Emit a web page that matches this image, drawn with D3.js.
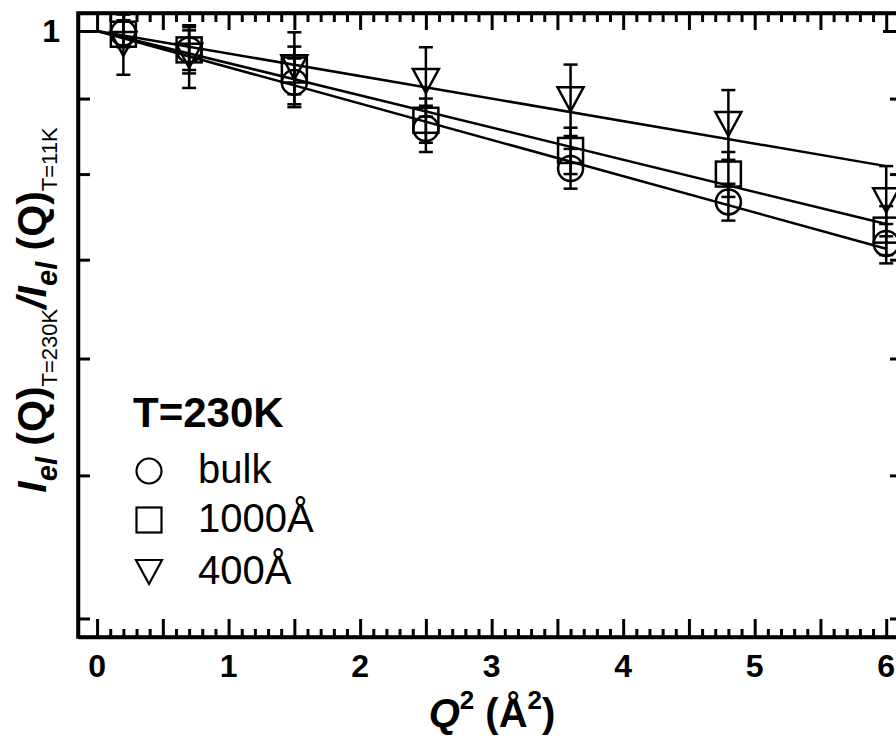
<!DOCTYPE html>
<html><head><meta charset="utf-8">
<script src="https://cdn.jsdelivr.net/npm/d3@7"></script>
<style>body{margin:0;background:#fff}svg{display:block}text{font-family:Arial,"Liberation Sans",sans-serif;fill:#000}</style>
</head><body><svg id="c" width="896" height="745"></svg>
<script>
// ---- data ----
const q2 = [0.2, 0.7, 1.5, 2.5, 3.6, 4.8, 6.0];
const bulk = [0.997, 0.971, 0.923, 0.859, 0.807, 0.766, 0.718];
const bulkErr = [0.02, 0.03, 0.035, 0.031, 0.025, 0.022, 0.022];
const nm1000 = [0.995, 0.971, 0.941, 0.870, 0.830, 0.800, 0.733];
const nm1000Err = [0.02, 0.035, 0.035, 0.03, 0.03, 0.028, 0.028];
const nm400 = [0.980, 0.962, 0.945, 0.925, 0.899, 0.865, 0.768];
const nm400Err = [0.046, 0.047, 0.053, 0.050, 0.050, 0.047, 0.042];
const fitQ2 = [0, 6];
const fitBulk = [1, 0.712];
const fit1000 = [1, 0.740];
const fit400 = [1, 0.810];
const xTickLabels = [0, 1, 2, 3, 4, 5, 6];
const yTicks = [1, 0.9, 0.8, 0.7, 0.6, 0.5, 0.4];
const yTickLabels = ["1"];
const legendTitle = "T=230K";
const seriesNames = ["bulk", "1000Å", "400Å"];

(function () {
const svg = d3.select("#c");
const L = 78, R = 902, T = 13, B = 637;
const x = d3.scaleLinear().domain([-0.145, 6.12]).range([L, R]);
const y = d3.scaleLog().domain([0.3886, 1.0285]).range([B, T]);

const defs = svg.append("defs");
defs.append("clipPath").attr("id", "pc").append("rect")
  .attr("x", L).attr("y", T).attr("width", R - L).attr("height", B - T);

// ---- axes (ticks inward) ----
const xt = d3.range(0, 61).map(i => i / 10);
const isMajX = v => Math.abs(v * 2 - Math.round(v * 2)) < 1e-6;
const g = svg.append("g");
const axB = g.append("g").attr("transform", `translate(0,${B})`)
  .call(d3.axisBottom(x).tickValues(xt).tickSizeInner(0).tickSizeOuter(0).tickFormat(""));
axB.selectAll(".tick line").attr("y2", d => isMajX(d) ? -18 : -8);
const axT = g.append("g").attr("transform", `translate(0,${T})`)
  .call(d3.axisTop(x).tickValues(xt).tickSizeInner(0).tickSizeOuter(0).tickFormat(""));
axT.selectAll(".tick line").attr("y2", d => isMajX(d) ? 17 : 9);
const axL = g.append("g").attr("transform", `translate(${L},0)`)
  .call(d3.axisLeft(y).tickValues(yTicks).tickSizeInner(0).tickSizeOuter(0).tickFormat(""));
axL.selectAll(".tick line").attr("x2", d => d === 1 ? 19 : 12);
const axR = g.append("g").attr("transform", `translate(${R},0)`)
  .call(d3.axisRight(y).tickValues(yTicks).tickSizeInner(0).tickSizeOuter(0).tickFormat(""));
axR.selectAll(".tick line").attr("x2", d => d === 1 ? -19 : -12);
g.selectAll(".domain").attr("stroke", "#000").attr("stroke-width", 3.5);
g.selectAll(".tick line").attr("stroke", "#000").attr("stroke-width", 3);
svg.append("rect").attr("x", L).attr("y", T).attr("width", R - L).attr("height", B - T)
  .attr("fill", "none").attr("stroke", "#000").attr("stroke-width", 3.5);

// tick labels
svg.append("g").selectAll("text").data(xTickLabels).join("text")
  .attr("x", d => x(d)).attr("y", 677).attr("text-anchor", "middle")
  .attr("font-size", 32).attr("font-weight", "bold").text(d => d);
svg.append("g").selectAll("text").data(yTickLabels).join("text")
  .attr("x", 60).attr("y", y(1) + 11).attr("text-anchor", "end")
  .attr("font-size", 32).attr("font-weight", "bold").text(d => d);

// ---- fit lines ----
const plot = svg.append("g").attr("clip-path", "url(#pc)");
const line = d3.line().x(d => x(d[0])).y(d => y(d[1]));
[fitBulk, fit1000, fit400].forEach(f => {
  plot.append("path").datum(fitQ2.map((q, i) => [q, f[i]])).attr("d", line)
    .attr("fill", "none").attr("stroke", "#000").attr("stroke-width", 2.5);
});

// ---- error bars and markers ----
const series = [
  {v: bulk, e: bulkErr, sym: "circle"},
  {v: nm1000, e: nm1000Err, sym: "square"},
  {v: nm400, e: nm400Err, sym: "triangle"}
];
const capW = 7;
series.forEach(s => {
  const eg = plot.append("g").attr("stroke", "#000").attr("stroke-width", 2.5);
  q2.forEach((q, i) => {
    const cx = x(q), y1 = y(s.v[i] + s.e[i]), y0 = y(s.v[i] - s.e[i]);
    eg.append("line").attr("x1", cx).attr("x2", cx).attr("y1", y1).attr("y2", y0);
    eg.append("line").attr("x1", cx - capW).attr("x2", cx + capW).attr("y1", y1).attr("y2", y1);
    eg.append("line").attr("x1", cx - capW).attr("x2", cx + capW).attr("y1", y0).attr("y2", y0);
  });
});
function marker(sel, type, cx, cy) {
  if (type === "circle") {
    sel.append("circle").attr("cx", cx).attr("cy", cy).attr("r", 12.5);
  } else if (type === "square") {
    sel.append("rect").attr("x", cx - 12.5).attr("y", cy - 12.5).attr("width", 25).attr("height", 25);
  } else {
    sel.append("path").attr("d", `M${cx - 13},${cy - 12}L${cx + 13},${cy - 12}L${cx},${cy + 12}Z`);
  }
}
series.forEach(s => {
  const mg = plot.append("g").attr("fill", "none").attr("stroke", "#000").attr("stroke-width", 2.5);
  q2.forEach((q, i) => marker(mg, s.sym, x(q), y(s.v[i])));
});

// ---- legend ----
svg.append("text").attr("x", 133).attr("y", 427).attr("font-size", 42)
  .attr("font-weight", "bold").text(legendTitle);
const lg = svg.append("g");
const rowY = [471, 520, 572];
seriesNames.forEach((n, i) => {
  const mg = lg.append("g").attr("fill", "none").attr("stroke", "#000").attr("stroke-width", 2.2);
  marker(mg, series[i].sym, 149, rowY[i]);
  lg.append("text").attr("x", 198).attr("y", rowY[i] + 12).attr("font-size", 40).text(n);
});

// ---- axis titles ----
const xt2 = svg.append("text").attr("x", 492).attr("y", 727).attr("text-anchor", "middle")
  .attr("font-size", 40).attr("font-weight", "bold");
xt2.append("tspan").attr("font-style", "italic").text("Q");
xt2.append("tspan").attr("font-size", 26).attr("dy", -18).text("2");
xt2.append("tspan").attr("dy", 18).text(" (Å");
xt2.append("tspan").attr("font-size", 26).attr("dy", -18).text("2");
xt2.append("tspan").attr("dy", 18).text(")");

const yl = svg.append("text").attr("transform", "translate(46,310) rotate(-90)")
  .attr("text-anchor", "middle").attr("font-size", 41).attr("font-weight", "bold");
function part(t, opts) {
  const s = yl.append("tspan").text(t);
  Object.entries(opts || {}).forEach(([k, v]) => s.attr(k, v));
  return s;
}
part("I", {"font-style": "italic"});
part("el", {"font-style": "italic", "font-size": 29, dy: 11});
part(" (Q)", {dy: -11});
part("T=230K", {"font-weight": "normal", "font-size": 22, dy: 11});
part("/", {"font-style": "italic", dy: -11});
part("I", {"font-style": "italic"});
part("el", {"font-style": "italic", "font-size": 29, dy: 11});
part(" (Q)", {dy: -11});
part("T=11K", {"font-weight": "normal", "font-size": 22, dy: 11});
})();
</script></body></html>
